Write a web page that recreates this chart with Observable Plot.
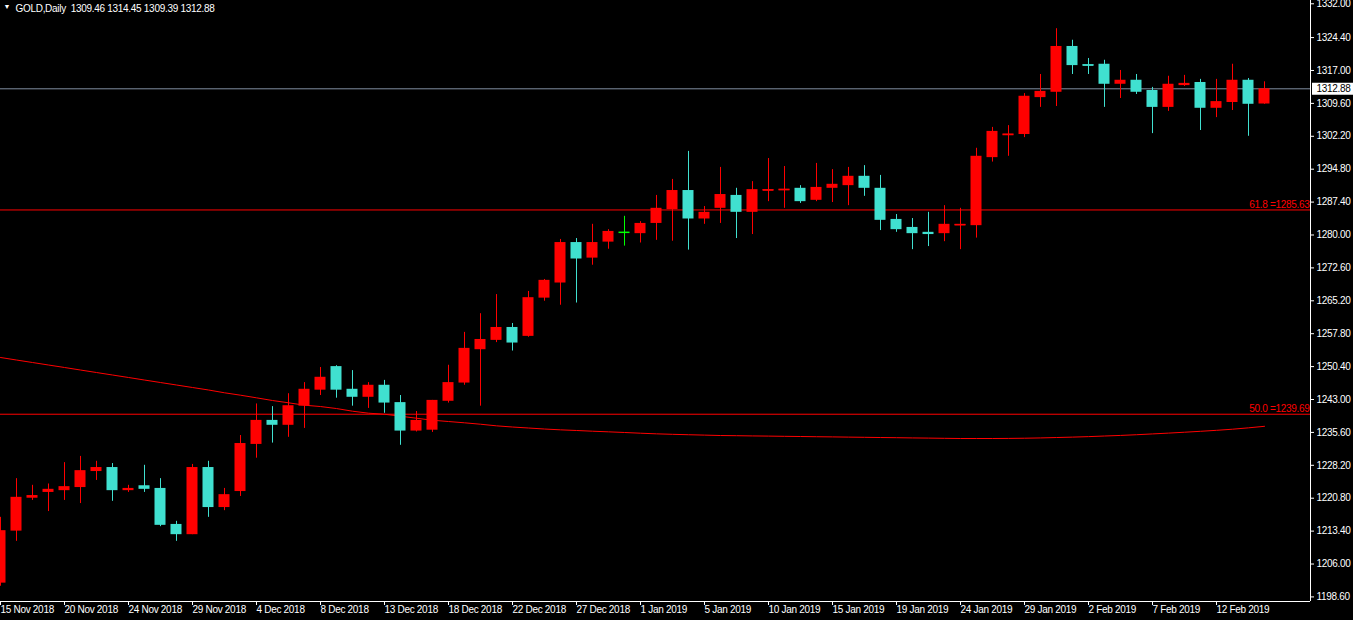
<!DOCTYPE html>
<html><head><meta charset="utf-8">
<script src="https://cdn.jsdelivr.net/npm/d3@7"></script>
<script src="https://cdn.jsdelivr.net/npm/@observablehq/plot@0.6"></script>
<style>
html,body{margin:0;padding:0;background:#000;overflow:hidden;}
#chart{width:1353px;height:620px;}
</style></head><body><div id="chart"></div>
<script>
const symbol = "GOLD,Daily";
const opens  = [1201.7,1213.4,1220.8,1222.1,1222.5,1223.2,1226.8,1227.7,1222.5,1223.6,1223.0,1214.9,1212.6,1227.7,1218.7,1222.3,1232.9,1238.3,1237.2,1241.5,1245.1,1250.4,1245.3,1243.5,1246.2,1242.3,1235.9,1236.1,1242.6,1246.7,1254.2,1256.3,1259.2,1257.2,1265.8,1269.2,1278.3,1274.8,1278.4,1280.6,1280.3,1282.6,1285.7,1290.0,1283.6,1286.0,1288.9,1285.1,1290.0,1290.1,1290.5,1287.8,1290.5,1291.1,1293.2,1290.5,1283.5,1281.7,1280.6,1280.3,1282.2,1282.1,1297.4,1302.5,1302.6,1310.9,1312.1,1322.4,1318.3,1318.4,1313.9,1314.8,1312.5,1308.7,1313.6,1314.3,1308.5,1309.8,1314.8,1309.46];
const highs  = [1216.5,1225.2,1223.7,1224.0,1228.8,1230.2,1229.1,1228.6,1223.7,1228.2,1225.2,1215.6,1228.4,1229.1,1223.0,1234.9,1242.0,1241.4,1244.3,1246.8,1250.2,1250.6,1249.5,1246.8,1247.3,1243.9,1240.3,1242.8,1250.7,1258.1,1262.3,1266.6,1260.1,1267.3,1270.0,1279.0,1279.2,1282.4,1281.2,1284.2,1283.0,1288.9,1292.5,1298.8,1286.4,1295.2,1290.5,1292.0,1297.2,1295.4,1291.1,1296.1,1294.7,1295.2,1295.6,1293.4,1284.6,1283.7,1285.1,1286.6,1286.0,1299.5,1304.2,1304.6,1311.8,1316.1,1326.4,1323.8,1319.7,1319.3,1317.0,1316.1,1313.2,1315.7,1315.9,1315.0,1315.0,1318.4,1315.2,1314.45];
const lows   = [1201.0,1211.1,1220.3,1217.8,1220.3,1219.6,1224.8,1220.1,1222.1,1222.1,1214.4,1211.1,1212.6,1216.5,1218.0,1221.2,1229.8,1233.2,1234.5,1236.5,1243.9,1243.3,1241.5,1241.0,1239.9,1232.7,1235.7,1235.6,1242.2,1246.2,1241.5,1255.8,1253.9,1257.0,1265.1,1264.2,1264.7,1273.2,1276.8,1277.5,1278.2,1278.8,1278.6,1276.6,1282.4,1282.6,1279.2,1280.1,1287.5,1286.0,1287.1,1287.5,1287.3,1286.6,1288.7,1281.0,1280.6,1276.7,1277.4,1278.5,1276.7,1279.3,1296.4,1297.7,1301.9,1308.7,1308.9,1316.1,1316.1,1308.7,1310.7,1311.6,1302.8,1307.8,1313.4,1303.5,1306.4,1308.0,1302.2,1309.39];
const closes = [1213.5,1221.0,1221.4,1222.8,1223.4,1227.0,1227.7,1222.5,1223.0,1222.8,1214.7,1212.6,1227.7,1218.7,1221.6,1233.1,1238.3,1237.2,1241.6,1245.3,1248.0,1245.1,1243.5,1246.2,1242.2,1235.9,1238.3,1242.8,1246.8,1254.5,1256.5,1259.2,1255.7,1265.9,1269.8,1278.3,1274.6,1278.3,1280.8,1280.6,1282.6,1286.0,1290.0,1283.6,1285.1,1289.1,1285.1,1290.2,1290.2,1290.3,1287.5,1290.7,1291.4,1293.2,1290.5,1283.3,1281.2,1280.3,1280.1,1282.4,1282.4,1297.7,1303.3,1302.7,1311.2,1312.3,1322.4,1318.1,1318.1,1313.9,1314.8,1312.1,1308.7,1313.9,1314.1,1308.5,1310.0,1314.8,1309.4,1312.88];
const maValues = [1252.45,1251.88,1251.32,1250.76,1250.20,1249.63,1249.07,1248.51,1247.95,1247.38,1246.82,1246.26,1245.70,1245.14,1244.51,1243.97,1243.38,1242.77,1242.26,1241.72,1241.42,1240.97,1240.37,1239.92,1239.69,1239.24,1238.79,1238.34,1238.05,1237.76,1237.44,1237.08,1236.81,1236.59,1236.36,1236.18,1236.03,1235.87,1235.73,1235.58,1235.42,1235.28,1235.17,1235.08,1234.99,1234.90,1234.86,1234.81,1234.77,1234.72,1234.68,1234.63,1234.59,1234.54,1234.50,1234.45,1234.41,1234.36,1234.32,1234.27,1234.23,1234.23,1234.23,1234.25,1234.29,1234.36,1234.45,1234.54,1234.65,1234.79,1234.92,1235.08,1235.26,1235.44,1235.64,1235.85,1236.07,1236.32,1236.63,1236.97];
const dateLabels = ["15 Nov 2018","20 Nov 2018","24 Nov 2018","29 Nov 2018","4 Dec 2018","8 Dec 2018","13 Dec 2018","18 Dec 2018","22 Dec 2018","27 Dec 2018","1 Jan 2019","5 Jan 2019","10 Jan 2019","15 Jan 2019","19 Jan 2019","24 Jan 2019","29 Jan 2019","2 Feb 2019","7 Feb 2019","12 Feb 2019"];
const dateLabelStep = 4;
const yTicks = [1332.00,1324.40,1317.00,1309.60,1302.20,1294.80,1287.40,1280.00,1272.60,1265.20,1257.80,1250.40,1243.00,1235.60,1228.20,1220.80,1213.40,1206.00,1198.60];
const fibNames = ["61.8","50.0"];
const fibPrices = [1285.63,1239.69];
const yDomain = [1197.57, 1332.74];

// layout
const W = 1353, H = 620, mR = 43, mB = 19, barPx = 16;
const xMax = (W - mR) / barPx;
const half = 5.5 / barPx;
const BULL = "#ff0000", BEAR = "#40e0d0", DOJI = "#00ff00";

const bars = opens.map((o, i) => ({i, o, h: highs[i], l: lows[i], c: closes[i]}));
const col = d => d.c > d.o ? BULL : d.c < d.o ? BEAR : DOJI;
const last = bars[bars.length - 1];
const header = `${symbol}  ${last.o.toFixed(2)} ${last.h.toFixed(2)} ${last.l.toFixed(2)} ${last.c.toFixed(2)}`;
const fib = fibNames.map((n, k) => ({price: fibPrices[k], label: `${n} =${fibPrices[k].toFixed(2)}`}));
const tickIdx = dateLabels.map((_, k) => k * dateLabelStep);
const labelAt = new Map(dateLabels.map((t, k) => [k * dateLabelStep, t]));

const chart = Plot.plot({
  width: W, height: H,
  marginTop: 0, marginLeft: 0, marginRight: mR, marginBottom: mB,
  style: {background: "#000", color: "#fff", fontFamily: "'Liberation Sans', Arial, sans-serif", fontSize: "10px", letterSpacing: "-0.3px", overflow: "visible"},
  x: {domain: [0, xMax], axis: null, label: null},
  y: {domain: yDomain, axis: null, label: null},
  marks: [
    Plot.ruleY(fib, {y: "price", stroke: "#ff0000", strokeWidth: 1}),
    Plot.text(fib, {x: xMax, y: "price", text: "label", textAnchor: "end", lineAnchor: "bottom", dx: -1, dy: -2, fill: "#ff0000"}),
    Plot.ruleY([last.c], {stroke: "#7f8ea0", strokeWidth: 1}),
    Plot.line(maValues, {x: (d, i) => i, y: d => d, stroke: "#ff0000", strokeWidth: 1}),
    Plot.ruleX(bars, {x: "i", y1: "l", y2: "h", stroke: col, strokeWidth: 1}),
    Plot.rect(bars, {x1: d => d.i - half, x2: d => d.i + half, y1: d => Math.min(d.o, d.c), y2: d => Math.max(d.o, d.c), fill: col}),
    Plot.ruleY(bars.filter(d => Math.abs(d.c - d.o) < 0.5), {y: d => (d.o + d.c) / 2, x1: d => d.i - half, x2: d => d.i + half, stroke: col, strokeWidth: 1.5}),
    Plot.ruleX([xMax], {stroke: "#fff"}),
    Plot.ruleY([yDomain[0]], {stroke: "#fff"}),
    Plot.axisY({anchor: "right", ticks: yTicks, tickFormat: d => d.toFixed(2), tickSize: 3, tickPadding: 3, label: null}),
    Plot.axisX({anchor: "bottom", ticks: tickIdx, tickFormat: d => labelAt.get(d), tickSize: 4, tickPadding: 0, textAnchor: "start", label: null}),
    Plot.ruleY([last.c], {x1: xMax + 2 / barPx, x2: W / barPx, stroke: "#fff", strokeWidth: 12}),
    Plot.text([last.c], {x: xMax, y: d => d, text: d => d.toFixed(2), textAnchor: "start", dx: 6, fill: "#000"}),
    Plot.text(["▼"], {frameAnchor: "top-left", dx: 3, dy: 4, lineAnchor: "top", fontSize: 7, fill: "#fff"}),
    Plot.text([header], {frameAnchor: "top-left", dx: 15, dy: 4, lineAnchor: "top", textAnchor: "start", fill: "#fff"})
  ]
});
document.getElementById("chart").appendChild(chart);
</script></body></html>
